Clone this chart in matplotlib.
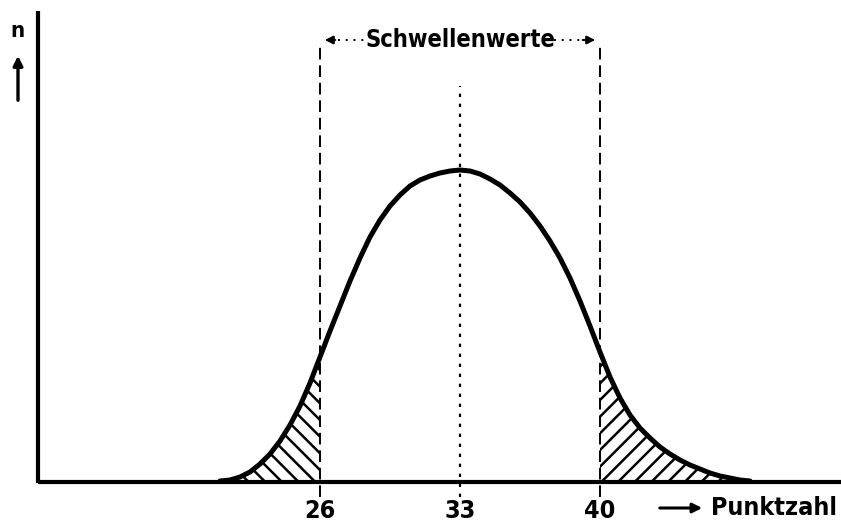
import numpy as np
import matplotlib.pyplot as plt

plt.rcParams['hatch.linewidth'] = 1.8
font = dict(family='DejaVu Sans', fontweight='bold', fontstretch='condensed')

# score distribution (Punktzahl vs. n), read at half-point steps
punkte = [21.0, 21.5, 22.0, 22.5, 23.0, 23.5, 24.0, 24.5, 25.0, 25.5,
          26.0, 26.5, 27.0, 27.5, 28.0, 28.5, 29.0, 29.5, 30.0, 30.5,
          31.0, 31.5, 32.0, 32.5, 33.0, 33.5, 34.0, 34.5, 35.0, 35.5,
          36.0, 36.5, 37.0, 37.5, 38.0, 38.5, 39.0, 39.5, 40.0, 40.5,
          41.0, 41.5, 42.0, 42.5, 43.0, 43.5, 44.0, 44.5, 45.0, 45.5,
          46.0, 46.5, 47.0, 47.5]
anzahl = [0, 1, 4, 9, 17, 27, 40, 56, 75, 98,
          124, 150, 175, 200, 223, 244, 261, 275, 286, 295,
          301, 305, 308, 310, 311, 310, 307, 302, 296, 288,
          279, 268, 255, 240, 223, 203, 180, 155, 129, 104,
          83, 66, 53, 43, 34, 27, 21, 16, 12, 8,
          5, 3, 1, 0]

schwelle_unten = 26
mittelwert = 33
schwelle_oben = 40
tick_werte = [schwelle_unten, mittelwert, schwelle_oben]

x = np.array(punkte)
n = np.array(anzahl)

fig = plt.figure(figsize=(8.41, 5.26), dpi=100)
ax = fig.add_axes([0, 0, 1, 1])
ax.set_xlim(10, 52.05)
ax.set_ylim(-45, 481)
ax.axis('off')

# axes drawn by hand
x0 = 11.9
ax.plot([x0, x0], [-2, 470], color='black', lw=3, solid_capstyle='butt')
ax.plot([x0, 52.05], [-1, -1], color='black', lw=3, solid_capstyle='butt')

# hatched tails outside the thresholds
links = x <= schwelle_unten
rechts = x >= schwelle_oben
ax.fill_between(x[links], 0, n[links], facecolor='none', edgecolor='black',
                hatch='\\\\', linewidth=0)
ax.fill_between(x[rechts], 0, n[rechts], facecolor='none', edgecolor='black',
                hatch='//', linewidth=0)

ax.plot(x, n, color='black', lw=3.6, solid_capstyle='round',
        solid_joinstyle='round')

# threshold and mean lines
for xv in [schwelle_unten, schwelle_oben]:
    ax.plot([xv, xv], [-16, 436], color='black', lw=1.4, ls=(0, (6, 3)))
ax.plot([mittelwert, mittelwert], [-16, 395], color='black', lw=1.6,
        ls=(0, (1.5, 3)))

# bracket label at the top
ax.text(mittelwert, 441, 'Schwellenwerte', ha='center', va='center',
        fontsize=17, **font)
ax.annotate('', xy=(schwelle_unten + 0.1, 441), xytext=(26.9, 441),
            arrowprops=dict(arrowstyle='-|>', color='black', lw=1.5,
                            mutation_scale=12))
ax.plot([26.9, 28.2], [441, 441], color='black', lw=1.4, ls=(0, (1, 3)))
ax.plot([37.7, 39.0], [441, 441], color='black', lw=1.4, ls=(0, (1, 3)))
ax.annotate('', xy=(schwelle_oben - 0.1, 441), xytext=(39.0, 441),
            arrowprops=dict(arrowstyle='-|>', color='black', lw=1.5,
                            mutation_scale=12))

# tick labels
for xv in tick_werte:
    ax.text(xv, -30, str(xv), ha='center', va='center', fontsize=18, **font)

# axis titles
ax.annotate('', xy=(45.25, -27), xytext=(42.85, -27),
            arrowprops=dict(arrowstyle='-|>', color='black', lw=2.2,
                            mutation_scale=14))
ax.text(45.55, -27, 'Punktzahl', ha='left', va='center', fontsize=18,
        **font)

ax.text(10.9, 450, 'n', ha='center', va='center', fontsize=16, **font)
ax.annotate('', xy=(10.9, 428), xytext=(10.9, 378),
            arrowprops=dict(arrowstyle='-|>', color='black', lw=2.4,
                            mutation_scale=14))

fig.savefig('out.png', dpi=100)
